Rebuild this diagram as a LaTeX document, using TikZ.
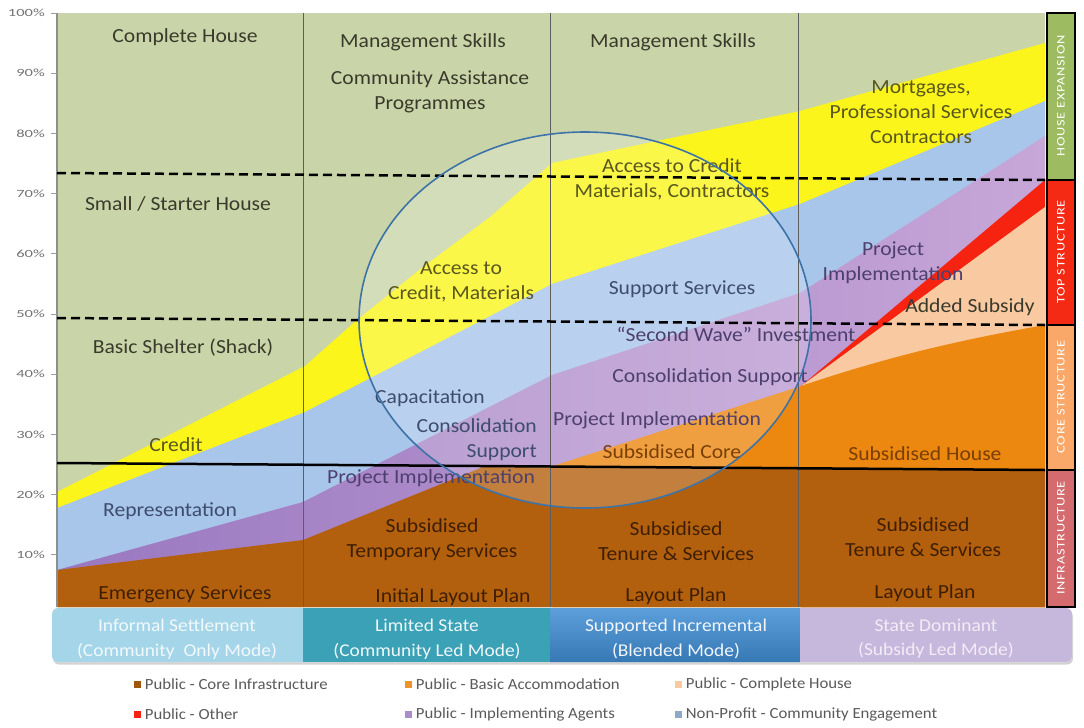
\documentclass[tikz,border=0pt]{standalone}
\usepackage{fontspec}
\setmainfont{Carlito}[FakeStretch=1.08]
\newfontfamily\axisfont{Carlito}[FakeStretch=1.5]
\newfontfamily\barfont{Carlito}[FakeStretch=1.25, LetterSpace=6]
\usetikzlibrary{positioning,shadows}

\definecolor{cGreen}{HTML}{C9D5A8}
\definecolor{cYellow}{HTML}{FBF51B}
\definecolor{cBlue}{HTML}{A8C6EA}
\definecolor{cPurA}{HTML}{9A78C0}
\definecolor{cPurB}{HTML}{C7A6D8}
\definecolor{cRed}{HTML}{F5230F}
\definecolor{cPeach}{HTML}{F9C9A1}
\definecolor{cOrange}{HTML}{EC870F}
\definecolor{cBrown}{HTML}{B3600E}
\definecolor{cRing}{HTML}{3E73A8}
\definecolor{cGrid}{HTML}{5E5E5E}
% side bar
\definecolor{cBarA}{HTML}{9DBB61}
\definecolor{cBarB}{HTML}{F52A14}
\definecolor{cBarC}{HTML}{F9A86A}
\definecolor{cBarD}{HTML}{D46B6E}
% mode boxes
\definecolor{cModeA}{HTML}{A5D5E8}
\definecolor{cModeB}{HTML}{3BA1B6}
\definecolor{cModeC}{HTML}{3F8ED4}
\definecolor{cModeD}{HTML}{C6B7DC}
% text
\definecolor{tGreen}{HTML}{3A3A2C}
\definecolor{tOlive}{HTML}{5A581E}
\definecolor{tBlue}{HTML}{3E4C6E}
\definecolor{tPurple}{HTML}{4D3F6E}
\definecolor{tBrown}{HTML}{3F1F02}
\definecolor{tOrange}{HTML}{7A3F05}
\definecolor{tLegend}{HTML}{5A5A5A}

\begin{document}
\begin{tikzpicture}[x=1pt,y=-1pt,
  lbl/.style={align=center, inner sep=0pt, font=\fontsize{20}{25}\selectfont},
  bartxt/.style={rotate=90, text=white, inner sep=0pt, font=\barfont\fontsize{11.5}{11.5}\selectfont},
  barbox/.style={draw=black, line width=2.5pt},
  modetxt/.style={align=center, inner sep=0pt, font=\fontsize{18}{24.5}\selectfont},
  legsq/.style={rectangle, minimum size=7pt, inner sep=0pt},
  legtxt/.style={inner sep=0pt, text=tLegend, font=\fontsize{15.5}{15.5}\selectfont},
  divider/.style={line width=2.5pt, black}]

\useasboundingbox (0,0) rectangle (1084,728);
\fill[white] (0,0) rectangle (1084,728);

% stacked areas, top layer first
\fill[cGreen] (57,13) rectangle (1045,607);
\fill[cYellow] (57,492) -- (305,366) -- (357,320) -- (423,267) -- (490,217) -- (552,163)
  -- (800,111) -- (1045,43) -- (1045,607) -- (57,607) -- cycle;
\fill[cBlue] (57,508) -- (305,412) -- (552,284) -- (800,204) -- (1045,101)
  -- (1045,607) -- (57,607) -- cycle;
\shade[left color=cPurA, right color=cPurB] (57,570) -- (303,502) -- (552,375) -- (800,293)
  -- (1045,136) -- (1045,607) -- (57,607) -- cycle;
\fill[cRed] (801,386) -- (1045,180) -- (1045,607) -- (801,607) -- cycle;
\fill[cPeach] (801,386) -- (1045,207) -- (1045,607) -- (801,607) -- cycle;
\fill[cOrange] (553,466) -- (801,386) .. controls (890,356) and (960,340) .. (1045,325)
  -- (1045,607) -- (553,607) -- cycle;
\fill[cBrown] (57,570) -- (303,540) -- (483,467) -- (1045,470) -- (1045,607) -- (57,607) -- cycle;

% lightened ring
\fill[white, opacity=0.2] (585,320) ellipse [x radius=226, y radius=188];

% column lines and axis
\foreach \cx in {303,550,798}
  \draw[cGrid, line width=1pt] (\cx,13) -- (\cx,607);
\draw[cGrid!70, line width=1.2pt] (57,13) -- (57,607);
\foreach \p [count=\i from 0] in {100,90,80,70,60,50,40,30,20,10} {
  \draw[cGrid!60, line width=0.8pt] (51,{13+60.2*\i}) -- (57,{13+60.2*\i});
  \node[anchor=east, inner sep=0pt, text=black!55, font=\axisfont\fontsize{11}{11}\selectfont]
    (Y\p) at (45,{13+60.2*\i}) {\p\%};
}

% stage dividers
\draw[divider, dash pattern=on 9pt off 5pt] (57,173) -- (1045,180);
\draw[divider, dash pattern=on 9pt off 5pt] (57,318) -- (1045,325);
\draw[divider] (57,463) -- (1045,470);

% column 1
\node[lbl, text=tGreen] (A1) at (185,37) {Complete House};
\node[lbl, text=tGreen] (A2) at (178,204) {Small / Starter House};
\node[lbl, text=tGreen] (A3) at (183,348) {Basic Shelter (Shack)};
\node[lbl, text=tOlive] (A4) at (176,445) {Credit};
\node[lbl, text=tBlue] (A5) at (170,511) {Representation};
\node[lbl, text=tBrown] (A6) at (185,594) {Emergency Services};

% column 2
\node[lbl, text=tGreen] (B1) at (423,42) {Management Skills};
\node[lbl, text=tGreen] (B2) at (430,91.5) {Community Assistance\\Programmes};
\node[lbl, text=tOlive] (B3) at (461,281.5) {Access to\\Credit, Materials};
\node[lbl, text=tBlue] (B4) at (430,398) {Capacitation};
\node[lbl, text=tBlue, align=right, anchor=east] (B5) at (537,440) {Consolidation\\Support};
\node[lbl, text=tPurple] (B6) at (431,478) {Project Implementation};
\node[lbl, text=tBrown] (B7) at (432,540) {Subsidised\\Temporary Services};
\node[lbl, text=tBrown] (B8) at (453,597) {Initial Layout Plan};

% column 3
\node[lbl, text=tGreen] (C1) at (673,42) {Management Skills};
\node[lbl, text=tOlive] (C2) at (672,179) {Access to Credit\\Materials, Contractors};
\node[lbl, text=tBlue] (C3) at (682,289) {Support Services};
\node[lbl, text=tPurple] (C4) at (736,334) {“Second Wave” Investment};
\node[lbl, text=tPurple] (C5) at (710,377) {Consolidation Support};
\node[lbl, text=tPurple] (C6) at (657,420) {Project Implementation};
\node[lbl, text=tOrange] (C7) at (672,452) {Subsidised Core};
\node[lbl, text=tBrown] (C8) at (676,541) {Subsidised\\Tenure \& Services};
\node[lbl, text=tBrown] (C9) at (676,596) {Layout Plan};

% column 4
\node[lbl, text=tOlive] (D1) at (921,112) {Mortgages,\\Professional Services\\Contractors};
\node[lbl, text=tPurple] (D2) at (893,263) {Project\\Implementation};
\node[lbl, text=tGreen] (D3) at (970,307) {Added Subsidy};
\node[lbl, text=tOrange] (D4) at (925,454) {Subsidised House};
\node[lbl, text=tBrown] (D5) at (923,537) {Subsidised\\Tenure \& Services};
\node[lbl, text=tBrown] (D6) at (925,593) {Layout Plan};

% ring outline
\draw[cRing, line width=1.6pt] (585,320) ellipse [x radius=226, y radius=188];

% side bar
\fill[cBarA] (1047,13) rectangle (1075,180);
\fill[cBarB] (1047,180) rectangle (1075,325);
\fill[cBarC] (1047,325) rectangle (1075,470);
\fill[cBarD] (1047,470) rectangle (1075,607);
\draw[barbox] (1047,13) rectangle (1075,180);
\draw[barbox] (1047,180) rectangle (1075,325);
\draw[barbox] (1047,325) rectangle (1075,470);
\draw[barbox] (1047,470) rectangle (1075,607);
\node[bartxt] (S1) at (1061,96) {HOUSE EXPANSION};
\node[bartxt] (S2) at (1061,252) {TOP STRUCTURE};
\node[bartxt] (S3) at (1061,397) {CORE STRUCTURE};
\node[bartxt] (S4) at (1061,538) {INFRASTRUCTURE};

% mode boxes
\fill[white, rounded corners=6pt, drop shadow={opacity=0.35, shadow xshift=1pt, shadow yshift=-2.5pt}]
  (52,608) rectangle (1072,662);
\begin{scope}
\clip[rounded corners=6pt] (52,608) rectangle (1072,662);
\fill[cModeA] (52,608) rectangle (303,662);
\fill[cModeB] (303,608) rectangle (550,662);
\shade[top color=cModeC!85!white, bottom color=cModeC!85!black] (550,608) rectangle (800,662);
\fill[cModeD] (800,608) rectangle (1072,662);
\end{scope}
\node[modetxt, text=white!85!cModeA] (M1) at (177,639) {Informal Settlement\\(Community~ Only Mode)};
\node[modetxt, text=white!92!cModeB] (M2) at (427,639) {Limited State\\(Community Led Mode)};
\node[modetxt, text=white!92!cModeC] (M3) at (676,639) {Supported Incremental\\(Blended Mode)};
\node[modetxt, text=white!75!cModeD] (M4) at (936,639) {State Dominant\\(Subsidy Led Mode)};

% legend
\node[legsq, fill=cBrown!90!black] (K1) at (137,684) {};
\node[legtxt, right=4pt of K1] (L1) {Public - Core Infrastructure};
\node[legsq, fill=cOrange!90!white] (K2) at (408,684) {};
\node[legtxt, right=4pt of K2] (L2) {Public - Basic Accommodation};
\node[legsq, fill=cPeach] (K3) at (678,684) {};
\node[legtxt, right=4pt of K3] (L3) {Public - Complete House};
\node[legsq, fill=cRed] (K4) at (137,714) {};
\node[legtxt, right=4pt of K4] (L4) {Public - Other};
\node[legsq, fill=cPurA!85!white] (K5) at (408,714) {};
\node[legtxt, right=4pt of K5] (L5) {Public - Implementing Agents};
\node[legsq, fill=cBlue!85!black] (K6) at (678,714) {};
\node[legtxt, right=4pt of K6] (L6) {Non-Profit - Community Engagement};
\end{tikzpicture}
\end{document}
